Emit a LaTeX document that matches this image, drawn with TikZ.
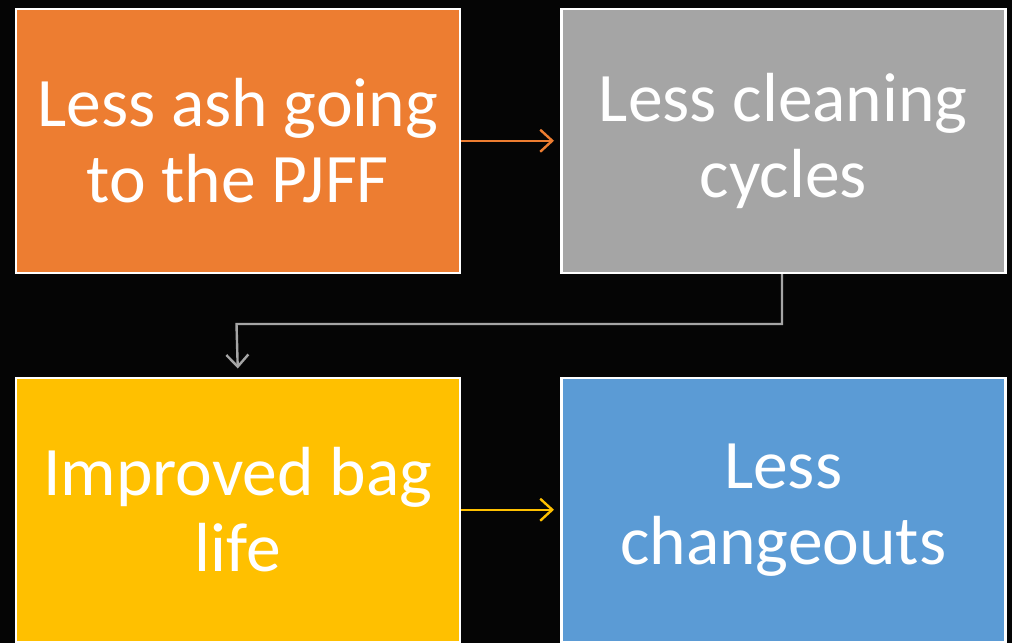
\documentclass[tikz,border=0pt]{standalone}
\usepackage{fontspec}
\setmainfont{Carlito}
\usetikzlibrary{arrows.meta}
\definecolor{bg}{HTML}{050505}
\definecolor{accOrange}{HTML}{ED7D31}
\definecolor{accGray}{HTML}{A5A5A5}
\definecolor{accGold}{HTML}{FFC000}
\definecolor{accBlue}{HTML}{5B9BD5}
\tikzset{
  x=1pt, y=-1pt,
  stepbox/.style={draw=white, line width=2.5pt, minimum width=444pt, minimum height=264pt,
    inner sep=0pt, text=white, align=center, font=\fontsize{69.5}{76}\selectfont, anchor=north west},
  flow/.style={line width=2.4pt, -{Straight Barb[length=12pt, width=22pt, line width=2.4pt]}},
}
\begin{document}
\begin{tikzpicture}
  \fill[bg] (0,0) rectangle (1012,643);
  \useasboundingbox (0,0) rectangle (1012,643);
  \node[stepbox, fill=accOrange] (ash) at (14.5,7.5) {Less ash going\\to the PJFF};
  \node[stepbox, fill=accGray] (clean) at (560,7.5) {Less cleaning\\cycles};
  \node[stepbox, fill=accGold] (bag) at (14.5,376.5) {Improved bag\\life};
  \node[stepbox, fill=accBlue] (change) at (560,376.5) {Less\\changeouts};
  \coordinate (turnR) at (782,324);
  \coordinate (turnL) at (236.5,324);
  \draw[flow, accOrange] (ash.east) -- ([xshift=-6pt]clean.west);
  \draw[flow, accGold] (bag.east) -- ([xshift=-6pt]change.west);
  \draw[flow, accGray] (clean.south -| turnR) -- (turnR) -- (turnL) -- ([yshift=8pt]bag.north);
\end{tikzpicture}
\end{document}
